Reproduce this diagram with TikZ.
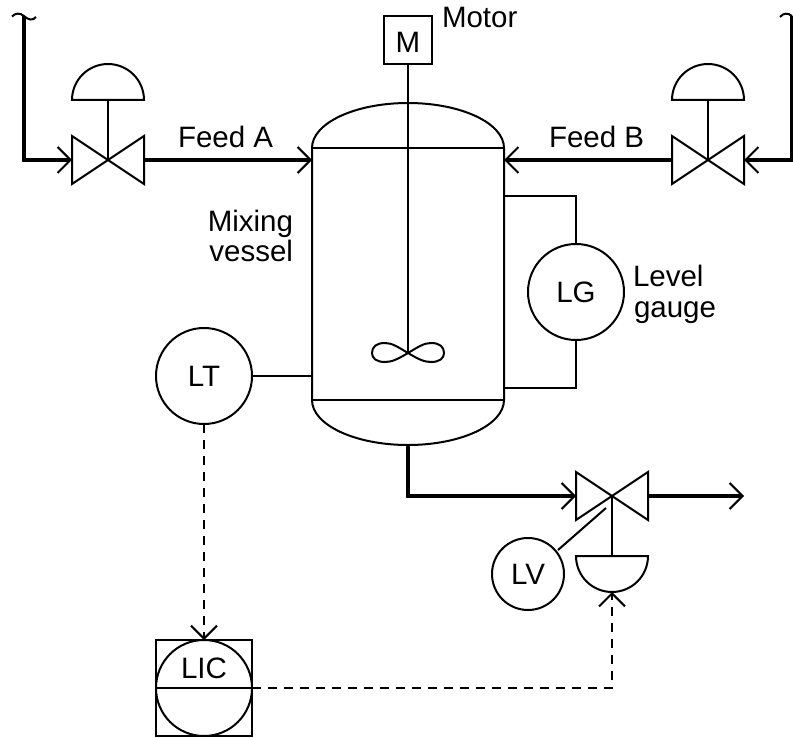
\documentclass[tikz,border=0pt]{standalone}
\usepackage{fontspec}
\setmainfont{Liberation Sans}
\usetikzlibrary{arrows.meta}
\tikzset{
  x=1pt,y=-1pt,
  thin line/.style={line width=2pt,line join=miter},
  pipe/.style={line width=4.5pt,line join=miter},
  signal/.style={line width=2pt,dash pattern=on 9pt off 7pt},
  barb/.style={-{Straight Barb[length=13pt,width=26pt,line width=2pt]}},
  txt/.style={font=\fontsize{29.5}{32}\selectfont},
  instr/.style={circle,draw,line width=2pt,inner sep=0pt,outer sep=0pt,minimum size=#1,txt},
  instr/.default=96pt,
  lbl/.style={inner sep=0pt,outer sep=0pt,anchor=base west,txt},
  lblr/.style={inner sep=0pt,outer sep=0pt,anchor=base east,txt},
  point/.style={inner sep=0pt,outer sep=0pt,txt},
}
\begin{document}
\begin{tikzpicture}
\useasboundingbox (0,0) rectangle (793,738);
% named points
\coordinate (pipeAtop) at (24,16);
\coordinate (pipeAbend) at (24,160);
\coordinate (valveAin) at (72,160);
\coordinate (valveAc) at (108,160);
\coordinate (valveAout) at (144,160);
\coordinate (domeA) at (108,100);
\coordinate (vesselAin) at (312,160);
\coordinate (vesselBin) at (504,160);
\coordinate (valveBout) at (672,160);
\coordinate (valveBc) at (708,160);
\coordinate (valveBin) at (744,160);
\coordinate (domeB) at (708,100);
\coordinate (pipeBbend) at (792,160);
\coordinate (pipeBtop) at (792,16);
\coordinate (vesselBottom) at (408,445);
\coordinate (outBend) at (408,496);
\coordinate (valveCin) at (576,496);
\coordinate (valveCc) at (612,496);
\coordinate (valveCout) at (648,496);
\coordinate (outEnd) at (744,496);
\coordinate (domeC) at (612,556);
\coordinate (domeCtip) at (612,592);
\coordinate (impeller) at (408,353);
\coordinate (lgTopTap) at (504,196);
\coordinate (lgTopBend) at (576,196);
\coordinate (lgBotTap) at (504,388);
\coordinate (lgBotBend) at (576,388);
\coordinate (ltTap) at (312,376);
\coordinate (lvA) at (606,508);
\coordinate (sigBend) at (612,688);

% nodes
\node[draw,line width=2pt,minimum size=48pt,inner sep=0pt,outer sep=0pt] (motor) at (408,40) {};
\node[lbl,anchor=base] (motorT) at (408,52.5) {M};
\node[instr] (LG) at (576,292) {LG};
\node[instr] (LT) at (204,376) {LT};
\node[instr=72pt] (LV) at (528,574) {LV};
\node[draw,line width=2pt,minimum size=96pt,inner sep=0pt,outer sep=0pt] (licbox) at (204,688) {};
\node[instr] (LICc) at (204,688) {};
\node[point] (LICt) at (204,668) {LIC};

% vessel
\draw[thin line] (312,148) arc[start angle=180,end angle=360,x radius=96,y radius=45]
  -- (504,400) arc[start angle=0,end angle=180,x radius=96,y radius=45] -- cycle;
\draw[thin line] (312,148) -- (504,148);
\draw[thin line] (312,400) -- (504,400);
\draw[thin line] (licbox.west) -- (licbox.east);

% shaft and impeller
\draw[thin line] (motor.south) -- (impeller);
\draw[thin line] (impeller) .. controls (398,347) and (392,343) .. (385,343)
  .. controls (376,343) and (372,347) .. (372,353)
  .. controls (372,358) and (376,362) .. (385,362)
  .. controls (392,362) and (398,359) .. (408,353)
  .. controls (418,347) and (424,343) .. (431,343)
  .. controls (440,343) and (444,347) .. (444,353)
  .. controls (444,358) and (440,362) .. (431,362)
  .. controls (424,362) and (418,359) .. (408,353);

% valves
\draw[thin line] (valveAc) -- (72,136) -- (72,184) -- cycle (valveAc) -- (144,136) -- (144,184) -- cycle;
\draw[thin line] (valveBc) -- (672,136) -- (672,184) -- cycle (valveBc) -- (744,136) -- (744,184) -- cycle;
\draw[thin line] (valveCc) -- (576,472) -- (576,520) -- cycle (valveCc) -- (648,472) -- (648,520) -- cycle;
% actuators
\draw[thin line] (72,100) arc[start angle=180,end angle=360,radius=36] -- cycle;
\draw[thin line] (672,100) arc[start angle=180,end angle=360,radius=36] -- cycle;
\draw[thin line] (576,556) -- (648,556) arc[start angle=0,end angle=180,radius=36] -- cycle;
\draw[thin line] (domeA) -- (valveAc);
\draw[thin line] (domeB) -- (valveBc);
\draw[thin line] (domeC) -- (valveCc);

% pipes
\draw[pipe,barb] (pipeAtop) -- (pipeAbend) -- (valveAin);
\draw[pipe,barb] (valveAout) -- (vesselAin);
\draw[pipe,barb] (valveBout) -- (vesselBin);
\draw[pipe,barb] (pipeBtop) -- (pipeBbend) -- (valveBin);
\draw[pipe,barb] (vesselBottom) -- (outBend) -- (valveCin);
\draw[pipe,barb] (valveCout) -- (outEnd);
% break marks
\draw[thin line] (12,16.5) .. controls (15,13) and (20,12.5) .. (24,16) .. controls (28,20) and (33,21) .. (36,17);
\draw[thin line] (780,17) .. controls (783,13) and (788,12.5) .. (792,16);

% instrument connections
\draw[thin line] (lgTopTap) -- (lgTopBend) -- (LG.north);
\draw[thin line] (LG.south) -- (lgBotBend) -- (lgBotTap);
\draw[thin line] (LT.east) -- (ltTap);
\draw[thin line] (LV) ++(30,-24) -- (lvA);
\draw[signal,barb] (LT.south) -- (licbox.north);
\draw[signal,barb] (licbox.east) -- (sigBend) -- (domeCtip);

% labels
\node[lbl] (feedA) at (178,148) {Feed A};
\node[lbl] (feedB) at (549,148) {Feed B};
\node[lbl] (motorL) at (442,28) {Motor};
\node[lblr] (mix1) at (293,232) {Mixing};
\node[lblr] (mix2) at (293,262) {vessel};
\node[lbl] (lev1) at (633,287) {Level};
\node[lbl] (lev2) at (634,317) {gauge};
\end{tikzpicture}
\end{document}
